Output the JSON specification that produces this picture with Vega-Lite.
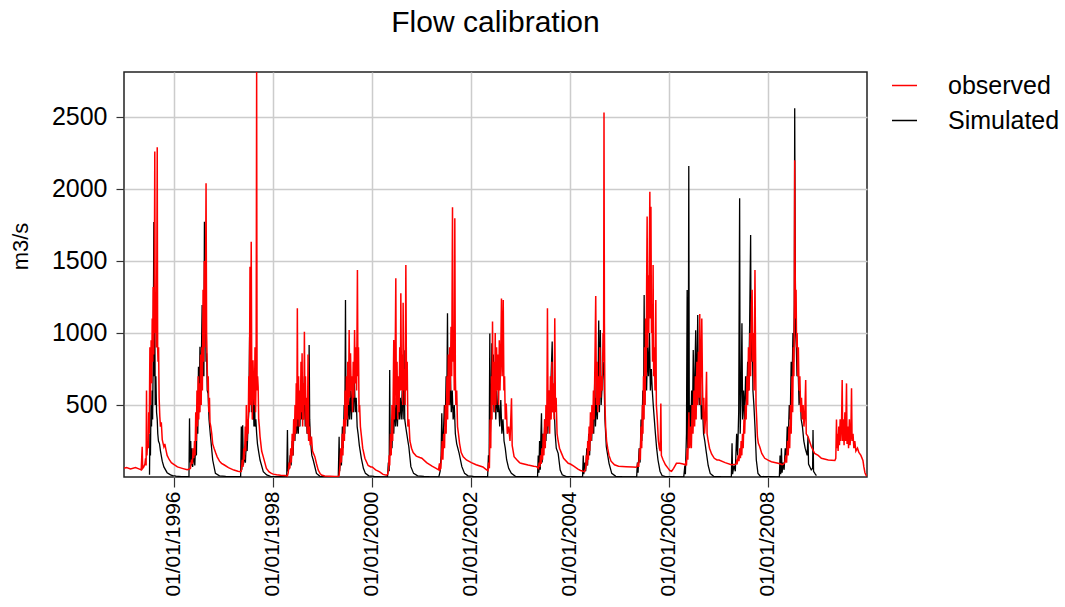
{
"$schema": "https://vega.github.io/schema/vega-lite/v6.json",
"width": 743, "height": 405,
"autosize": {"type": "none"},
"padding": {"left": 124, "top": 72, "right": 198, "bottom": 130},
"background": "white",
"title": {"text": "Flow calibration", "fontSize": 30, "font": "Liberation Sans", "fontWeight": "normal", "color": "black", "anchor": "middle", "offset": 34},
"config": {"view": {"stroke": "#222222", "strokeWidth": 1.5}, "font": "Liberation Sans"},
"encoding": {
  "x": {"field": "t", "type": "temporal",
    "scale": {"domain": [{"year": 1995, "month": 1, "date": 1}, {"year": 2009, "month": 12, "date": 31}], "nice": false},
    "axis": {"title": null, "values": [{"year": 1996, "month": 1, "date": 1}, {"year": 1998, "month": 1, "date": 1}, {"year": 2000, "month": 1, "date": 1}, {"year": 2002, "month": 1, "date": 1}, {"year": 2004, "month": 1, "date": 1}, {"year": 2006, "month": 1, "date": 1}, {"year": 2008, "month": 1, "date": 1}],
      "format": "%d/%m/%Y", "labelAngle": 270, "labelFontSize": 21, "labelFont": "Liberation Sans", "labelColor": "black", "labelOverlap": false, "labelFlush": false,
      "tickSize": 10, "tickColor": "#333333", "tickWidth": 1.2, "labelPadding": 4, "grid": true, "gridColor": "#cccccc", "gridWidth": 1.5, "domain": false}},
  "y": {"field": "v", "type": "quantitative",
    "scale": {"domain": [0, 2812], "nice": false},
    "axis": {"title": "m3/s", "values": [500, 1000, 1500, 2000, 2500], "format": "d", "labelFontSize": 25, "labelFont": "Liberation Sans", "labelColor": "black",
      "tickSize": 8, "tickColor": "#333333", "tickWidth": 1.2, "labelPadding": 9, "grid": true, "gridColor": "#cccccc", "gridWidth": 1.5, "domain": false,
      "titleFontSize": 22, "titleFont": "Liberation Sans", "titleFontWeight": "normal", "titleColor": "black", "titlePadding": 19, "titleY": 174}}
},
"layer": [
{
"data": {"format": {"parse": {"t": "date:'%Y-%j'"}}, "values": [
{"t":"1995-189","v":15},{"t":"1995-192","v":300},{"t":"1995-196","v":150},{"t":"1995-200","v":500},{"t":"1995-204","v":350},{"t":"1995-208","v":600},{"t":"1995-212","v":400},{"t":"1995-216","v":800},{"t":"1995-221","v":1770},{"t":"1995-224","v":700},{"t":"1995-228","v":1100},{"t":"1995-231","v":500},{"t":"1995-236","v":700},{"t":"1995-241","v":450},{"t":"1995-246","v":400},{"t":"1995-250","v":300},{"t":"1995-255","v":250},{"t":"1995-263","v":230},{"t":"1995-270","v":180},{"t":"1995-283","v":110},{"t":"1995-295","v":70},{"t":"1995-319","v":30},{"t":"1995-344","v":15},{"t":"1995-360","v":10},
{"t":"1996-20","v":6},{"t":"1996-60","v":3},{"t":"1996-115","v":2},{"t":"1996-119","v":407},{"t":"1996-123","v":100},{"t":"1996-128","v":250},{"t":"1996-132","v":80},{"t":"1996-137","v":200},{"t":"1996-142","v":70},{"t":"1996-150","v":160},{"t":"1996-158","v":80},{"t":"1996-165","v":250},{"t":"1996-170","v":150},{"t":"1996-175","v":500},{"t":"1996-180","v":300},{"t":"1996-185","v":766},{"t":"1996-190","v":450},{"t":"1996-196","v":905},{"t":"1996-201","v":500},{"t":"1996-206","v":800},{"t":"1996-212","v":1194},{"t":"1996-216","v":700},{"t":"1996-221","v":1000},{"t":"1996-225","v":700},{"t":"1996-229","v":1773},{"t":"1996-233","v":1000},{"t":"1996-237","v":1200},{"t":"1996-241","v":800},{"t":"1996-245","v":860},{"t":"1996-250","v":600},{"t":"1996-256","v":580},{"t":"1996-263","v":400},{"t":"1996-272","v":300},{"t":"1996-290","v":118},{"t":"1996-310","v":25},{"t":"1996-340","v":8},
{"t":"1997-20","v":5},{"t":"1997-80","v":3},{"t":"1997-130","v":2},{"t":"1997-135","v":350},{"t":"1997-139","v":50},{"t":"1997-145","v":360},{"t":"1997-150","v":80},{"t":"1997-158","v":150},{"t":"1997-165","v":100},{"t":"1997-172","v":250},{"t":"1997-178","v":180},{"t":"1997-184","v":350},{"t":"1997-190","v":450},{"t":"1997-196","v":975},{"t":"1997-200","v":500},{"t":"1997-205","v":810},{"t":"1997-210","v":450},{"t":"1997-215","v":600},{"t":"1997-220","v":400},{"t":"1997-224","v":580},{"t":"1997-228","v":350},{"t":"1997-232","v":670},{"t":"1997-236","v":350},{"t":"1997-242","v":400},{"t":"1997-248","v":300},{"t":"1997-254","v":230},{"t":"1997-262","v":180},{"t":"1997-273","v":118},{"t":"1997-297","v":37},{"t":"1997-322","v":14},{"t":"1997-350","v":5},
{"t":"1998-20","v":3},{"t":"1998-60","v":2},{"t":"1998-105","v":1},{"t":"1998-110","v":326},{"t":"1998-114","v":40},{"t":"1998-122","v":60},{"t":"1998-130","v":150},{"t":"1998-137","v":80},{"t":"1998-145","v":250},{"t":"1998-152","v":150},{"t":"1998-159","v":400},{"t":"1998-165","v":250},{"t":"1998-172","v":500},{"t":"1998-178","v":300},{"t":"1998-185","v":450},{"t":"1998-190","v":300},{"t":"1998-196","v":500},{"t":"1998-202","v":350},{"t":"1998-208","v":600},{"t":"1998-214","v":400},{"t":"1998-222","v":650},{"t":"1998-228","v":400},{"t":"1998-235","v":700},{"t":"1998-241","v":350},{"t":"1998-248","v":500},{"t":"1998-255","v":300},{"t":"1998-262","v":450},{"t":"1998-266","v":250},{"t":"1998-270","v":917},{"t":"1998-274","v":400},{"t":"1998-280","v":250},{"t":"1998-290","v":150},{"t":"1998-300","v":118},{"t":"1998-324","v":25},{"t":"1998-350","v":5},
{"t":"1999-20","v":3},{"t":"1999-60","v":2},{"t":"1999-120","v":1},{"t":"1999-126","v":280},{"t":"1999-130","v":40},{"t":"1999-137","v":150},{"t":"1999-143","v":80},{"t":"1999-150","v":350},{"t":"1999-156","v":200},{"t":"1999-163","v":500},{"t":"1999-168","v":300},{"t":"1999-173","v":1229},{"t":"1999-177","v":400},{"t":"1999-183","v":600},{"t":"1999-189","v":350},{"t":"1999-196","v":550},{"t":"1999-203","v":400},{"t":"1999-210","v":600},{"t":"1999-217","v":400},{"t":"1999-224","v":650},{"t":"1999-231","v":450},{"t":"1999-238","v":700},{"t":"1999-245","v":450},{"t":"1999-252","v":550},{"t":"1999-259","v":350},{"t":"1999-266","v":300},{"t":"1999-275","v":220},{"t":"1999-290","v":130},{"t":"1999-305","v":60},{"t":"1999-320","v":25},{"t":"1999-345","v":8},
{"t":"2000-20","v":4},{"t":"2000-60","v":2},{"t":"2000-118","v":1},{"t":"2000-124","v":100},{"t":"2000-130","v":40},{"t":"2000-134","v":743},{"t":"2000-138","v":150},{"t":"2000-145","v":300},{"t":"2000-151","v":200},{"t":"2000-158","v":450},{"t":"2000-164","v":300},{"t":"2000-171","v":550},{"t":"2000-177","v":350},{"t":"2000-184","v":500},{"t":"2000-191","v":350},{"t":"2000-198","v":600},{"t":"2000-205","v":400},{"t":"2000-212","v":550},{"t":"2000-219","v":400},{"t":"2000-226","v":600},{"t":"2000-233","v":400},{"t":"2000-240","v":880},{"t":"2000-245","v":400},{"t":"2000-252","v":350},{"t":"2000-260","v":300},{"t":"2000-268","v":250},{"t":"2000-275","v":210},{"t":"2000-290","v":72},{"t":"2000-310","v":25},{"t":"2000-340","v":8},
{"t":"2001-20","v":4},{"t":"2001-60","v":2},{"t":"2001-130","v":1},{"t":"2001-140","v":40},{"t":"2001-147","v":150},{"t":"2001-152","v":442},{"t":"2001-157","v":200},{"t":"2001-164","v":300},{"t":"2001-171","v":500},{"t":"2001-177","v":350},{"t":"2001-184","v":700},{"t":"2001-189","v":500},{"t":"2001-194","v":1137},{"t":"2001-198","v":600},{"t":"2001-204","v":800},{"t":"2001-210","v":500},{"t":"2001-216","v":700},{"t":"2001-222","v":450},{"t":"2001-229","v":600},{"t":"2001-236","v":400},{"t":"2001-244","v":500},{"t":"2001-252","v":300},{"t":"2001-262","v":230},{"t":"2001-280","v":164},{"t":"2001-300","v":72},{"t":"2001-320","v":25},{"t":"2001-345","v":8},
{"t":"2002-20","v":4},{"t":"2002-60","v":2},{"t":"2002-125","v":2},{"t":"2002-131","v":150},{"t":"2002-136","v":80},{"t":"2002-141","v":997},{"t":"2002-145","v":300},{"t":"2002-151","v":500},{"t":"2002-156","v":928},{"t":"2002-161","v":500},{"t":"2002-167","v":850},{"t":"2002-172","v":450},{"t":"2002-179","v":700},{"t":"2002-185","v":400},{"t":"2002-192","v":600},{"t":"2002-199","v":450},{"t":"2002-207","v":500},{"t":"2002-214","v":350},{"t":"2002-222","v":535},{"t":"2002-230","v":300},{"t":"2002-238","v":400},{"t":"2002-246","v":250},{"t":"2002-255","v":200},{"t":"2002-265","v":120},{"t":"2002-280","v":60},{"t":"2002-300","v":25},{"t":"2002-330","v":5},
{"t":"2003-20","v":3},{"t":"2003-60","v":2},{"t":"2003-128","v":1},{"t":"2003-133","v":150},{"t":"2003-138","v":30},{"t":"2003-143","v":250},{"t":"2003-148","v":50},{"t":"2003-153","v":300},{"t":"2003-157","v":442},{"t":"2003-162","v":100},{"t":"2003-168","v":300},{"t":"2003-175","v":200},{"t":"2003-182","v":400},{"t":"2003-190","v":250},{"t":"2003-197","v":500},{"t":"2003-204","v":300},{"t":"2003-212","v":600},{"t":"2003-220","v":400},{"t":"2003-228","v":700},{"t":"2003-236","v":940},{"t":"2003-242","v":450},{"t":"2003-250","v":500},{"t":"2003-258","v":300},{"t":"2003-266","v":200},{"t":"2003-280","v":164},{"t":"2003-295","v":48},{"t":"2003-310","v":15},{"t":"2003-340","v":3},
{"t":"2004-20","v":2},{"t":"2004-60","v":1},{"t":"2004-95","v":1},{"t":"2004-100","v":150},{"t":"2004-104","v":20},{"t":"2004-112","v":100},{"t":"2004-118","v":40},{"t":"2004-126","v":200},{"t":"2004-132","v":80},{"t":"2004-140","v":300},{"t":"2004-147","v":150},{"t":"2004-155","v":400},{"t":"2004-162","v":250},{"t":"2004-170","v":500},{"t":"2004-177","v":300},{"t":"2004-185","v":697},{"t":"2004-190","v":350},{"t":"2004-197","v":550},{"t":"2004-204","v":400},{"t":"2004-210","v":700},{"t":"2004-214","v":1086},{"t":"2004-219","v":450},{"t":"2004-226","v":1021},{"t":"2004-232","v":500},{"t":"2004-240","v":650},{"t":"2004-247","v":800},{"t":"2004-253","v":700},{"t":"2004-260","v":400},{"t":"2004-270","v":210},{"t":"2004-290","v":95},{"t":"2004-310","v":25},{"t":"2004-340","v":5},
{"t":"2005-20","v":2},{"t":"2005-60","v":1},{"t":"2005-128","v":1},{"t":"2005-133","v":100},{"t":"2005-138","v":30},{"t":"2005-146","v":200},{"t":"2005-153","v":100},{"t":"2005-160","v":400},{"t":"2005-166","v":250},{"t":"2005-173","v":600},{"t":"2005-178","v":400},{"t":"2005-183","v":1264},{"t":"2005-187","v":500},{"t":"2005-194","v":800},{"t":"2005-201","v":600},{"t":"2005-208","v":900},{"t":"2005-215","v":700},{"t":"2005-222","v":1000},{"t":"2005-229","v":600},{"t":"2005-236","v":750},{"t":"2005-243","v":600},{"t":"2005-250","v":500},{"t":"2005-258","v":400},{"t":"2005-266","v":300},{"t":"2005-275","v":200},{"t":"2005-285","v":118},{"t":"2005-300","v":40},{"t":"2005-315","v":10},{"t":"2005-340","v":3},
{"t":"2006-20","v":2},{"t":"2006-60","v":1},{"t":"2006-110","v":1},{"t":"2006-118","v":80},{"t":"2006-122","v":20},{"t":"2006-130","v":300},{"t":"2006-135","v":1299},{"t":"2006-139","v":200},{"t":"2006-143","v":400},{"t":"2006-147","v":2160},{"t":"2006-151","v":300},{"t":"2006-156","v":500},{"t":"2006-162","v":300},{"t":"2006-168","v":600},{"t":"2006-174","v":350},{"t":"2006-180","v":882},{"t":"2006-186","v":450},{"t":"2006-192","v":700},{"t":"2006-198","v":1019},{"t":"2006-204","v":500},{"t":"2006-209","v":800},{"t":"2006-213","v":1125},{"t":"2006-218","v":600},{"t":"2006-225","v":500},{"t":"2006-232","v":700},{"t":"2006-240","v":400},{"t":"2006-248","v":500},{"t":"2006-256","v":300},{"t":"2006-265","v":250},{"t":"2006-275","v":180},{"t":"2006-290","v":80},{"t":"2006-305","v":25},{"t":"2006-330","v":5},
{"t":"2007-20","v":2},{"t":"2007-60","v":1},{"t":"2007-96","v":1},{"t":"2007-101","v":234},{"t":"2007-105","v":20},{"t":"2007-115","v":80},{"t":"2007-125","v":40},{"t":"2007-135","v":300},{"t":"2007-142","v":150},{"t":"2007-150","v":450},{"t":"2007-157","v":1935},{"t":"2007-161","v":300},{"t":"2007-168","v":600},{"t":"2007-174","v":1067},{"t":"2007-179","v":400},{"t":"2007-186","v":600},{"t":"2007-193","v":400},{"t":"2007-201","v":700},{"t":"2007-208","v":500},{"t":"2007-216","v":800},{"t":"2007-223","v":600},{"t":"2007-230","v":1000},{"t":"2007-238","v":1681},{"t":"2007-242","v":800},{"t":"2007-249","v":1200},{"t":"2007-255","v":600},{"t":"2007-262","v":500},{"t":"2007-270","v":350},{"t":"2007-280","v":118},{"t":"2007-292","v":25},{"t":"2007-310","v":5},{"t":"2007-340","v":2},
{"t":"2008-20","v":2},{"t":"2008-60","v":1},{"t":"2008-85","v":1},{"t":"2008-90","v":150},{"t":"2008-95","v":20},{"t":"2008-100","v":200},{"t":"2008-105","v":30},{"t":"2008-112","v":100},{"t":"2008-120","v":50},{"t":"2008-128","v":200},{"t":"2008-135","v":120},{"t":"2008-143","v":350},{"t":"2008-150","v":250},{"t":"2008-158","v":500},{"t":"2008-165","v":400},{"t":"2008-172","v":800},{"t":"2008-178","v":600},{"t":"2008-185","v":1000},{"t":"2008-190","v":800},{"t":"2008-195","v":1200},{"t":"2008-198","v":2560},{"t":"2008-201","v":1715},{"t":"2008-205","v":1000},{"t":"2008-210","v":900},{"t":"2008-215","v":700},{"t":"2008-222","v":800},{"t":"2008-230","v":500},{"t":"2008-238","v":600},{"t":"2008-246","v":400},{"t":"2008-255","v":350},{"t":"2008-265","v":250},{"t":"2008-275","v":200},{"t":"2008-290","v":150},{"t":"2008-296","v":280},{"t":"2008-300","v":90},{"t":"2008-310","v":70},{"t":"2008-320","v":50},{"t":"2008-330","v":60},{"t":"2008-333","v":326},{"t":"2008-337","v":40},{"t":"2008-350","v":20},{"t":"2008-358","v":10}
]},
"mark": {"type": "line", "strokeWidth": 1.3, "clip": true},
"encoding": {"color": {"datum": "Simulated", "type": "nominal",
  "scale": {"domain": ["observed", "Simulated"], "range": ["#ff0000", "#000000"]},
  "legend": {"title": null, "orient": "none", "legendX": 767, "legendY": 0, "symbolType": "stroke", "symbolSize": 625, "symbolStrokeWidth": 1.5, "labelFontSize": 25, "labelFont": "Liberation Sans", "labelColor": "black", "labelOffset": 30, "rowPadding": 8, "padding": 0}}}
},
{
"data": {"format": {"parse": {"t": "date:'%Y-%j'"}}, "values": [
{"t":"1995-1","v":60},{"t":"1995-20","v":65},{"t":"1995-49","v":55},{"t":"1995-86","v":65},{"t":"1995-115","v":55},{"t":"1995-128","v":50},{"t":"1995-135","v":210},{"t":"1995-139","v":60},{"t":"1995-147","v":70},{"t":"1995-155","v":90},{"t":"1995-160","v":130},{"t":"1995-164","v":80},{"t":"1995-167","v":600},{"t":"1995-170","v":150},{"t":"1995-175","v":250},{"t":"1995-180","v":200},{"t":"1995-183","v":450},{"t":"1995-187","v":300},{"t":"1995-192","v":900},{"t":"1995-196","v":500},{"t":"1995-201","v":950},{"t":"1995-205","v":650},{"t":"1995-209","v":1100},{"t":"1995-213","v":800},{"t":"1995-216","v":1320},{"t":"1995-220","v":850},{"t":"1995-224","v":1200},{"t":"1995-228","v":2260},{"t":"1995-231","v":1000},{"t":"1995-235","v":1250},{"t":"1995-239","v":900},{"t":"1995-243","v":1500},{"t":"1995-246","v":2290},{"t":"1995-249","v":900},{"t":"1995-252","v":800},{"t":"1995-256","v":900},{"t":"1995-260","v":550},{"t":"1995-265","v":420},{"t":"1995-270","v":350},{"t":"1995-276","v":380},{"t":"1995-283","v":260},{"t":"1995-290","v":230},{"t":"1995-295","v":210},{"t":"1995-302","v":230},{"t":"1995-310","v":190},{"t":"1995-319","v":150},{"t":"1995-335","v":120},{"t":"1995-350","v":100},{"t":"1995-365","v":90},
{"t":"1996-30","v":70},{"t":"1996-65","v":60},{"t":"1996-102","v":50},{"t":"1996-119","v":55},{"t":"1996-126","v":60},{"t":"1996-134","v":120},{"t":"1996-140","v":90},{"t":"1996-146","v":200},{"t":"1996-151","v":130},{"t":"1996-156","v":250},{"t":"1996-160","v":150},{"t":"1996-165","v":450},{"t":"1996-169","v":250},{"t":"1996-174","v":600},{"t":"1996-178","v":350},{"t":"1996-183","v":700},{"t":"1996-187","v":400},{"t":"1996-192","v":650},{"t":"1996-196","v":450},{"t":"1996-201","v":850},{"t":"1996-205","v":500},{"t":"1996-210","v":900},{"t":"1996-214","v":600},{"t":"1996-219","v":1300},{"t":"1996-223","v":800},{"t":"1996-228","v":1500},{"t":"1996-232","v":900},{"t":"1996-236","v":1200},{"t":"1996-241","v":2040},{"t":"1996-245","v":1000},{"t":"1996-249","v":800},{"t":"1996-253","v":600},{"t":"1996-257","v":700},{"t":"1996-261","v":450},{"t":"1996-266","v":550},{"t":"1996-270","v":380},{"t":"1996-276","v":350},{"t":"1996-283","v":300},{"t":"1996-290","v":230},{"t":"1996-300","v":200},{"t":"1996-311","v":170},{"t":"1996-323","v":140},{"t":"1996-340","v":110},{"t":"1996-355","v":95},
{"t":"1997-7","v":85},{"t":"1997-40","v":65},{"t":"1997-80","v":48},{"t":"1997-110","v":40},{"t":"1997-129","v":37},{"t":"1997-135","v":40},{"t":"1997-142","v":120},{"t":"1997-147","v":70},{"t":"1997-153","v":200},{"t":"1997-158","v":120},{"t":"1997-164","v":350},{"t":"1997-168","v":180},{"t":"1997-172","v":500},{"t":"1997-176","v":250},{"t":"1997-181","v":400},{"t":"1997-185","v":300},{"t":"1997-190","v":700},{"t":"1997-194","v":450},{"t":"1997-199","v":1460},{"t":"1997-203","v":500},{"t":"1997-208","v":1634},{"t":"1997-212","v":700},{"t":"1997-216","v":400},{"t":"1997-221","v":810},{"t":"1997-226","v":600},{"t":"1997-231","v":500},{"t":"1997-236","v":900},{"t":"1997-240","v":450},{"t":"1997-244","v":700},{"t":"1997-248","v":2830},{"t":"1997-251","v":600},{"t":"1997-255","v":700},{"t":"1997-259","v":627},{"t":"1997-263","v":400},{"t":"1997-268","v":350},{"t":"1997-273","v":280},{"t":"1997-285","v":180},{"t":"1997-297","v":140},{"t":"1997-320","v":60},{"t":"1997-340","v":35},{"t":"1997-357","v":25},
{"t":"1998-5","v":20},{"t":"1998-30","v":15},{"t":"1998-60","v":12},{"t":"1998-91","v":10},{"t":"1998-110","v":8},{"t":"1998-116","v":30},{"t":"1998-122","v":100},{"t":"1998-128","v":60},{"t":"1998-134","v":200},{"t":"1998-139","v":100},{"t":"1998-145","v":300},{"t":"1998-150","v":150},{"t":"1998-156","v":400},{"t":"1998-161","v":250},{"t":"1998-166","v":500},{"t":"1998-170","v":300},{"t":"1998-175","v":650},{"t":"1998-179","v":350},{"t":"1998-183","v":1171},{"t":"1998-187","v":400},{"t":"1998-192","v":700},{"t":"1998-196","v":350},{"t":"1998-201","v":600},{"t":"1998-205","v":400},{"t":"1998-210","v":800},{"t":"1998-214","v":450},{"t":"1998-218","v":859},{"t":"1998-222","v":350},{"t":"1998-227","v":650},{"t":"1998-231","v":400},{"t":"1998-235","v":1009},{"t":"1998-239","v":500},{"t":"1998-243","v":700},{"t":"1998-247","v":350},{"t":"1998-252","v":550},{"t":"1998-257","v":300},{"t":"1998-262","v":850},{"t":"1998-267","v":250},{"t":"1998-272","v":350},{"t":"1998-278","v":220},{"t":"1998-287","v":280},{"t":"1998-295","v":180},{"t":"1998-312","v":141},{"t":"1998-325","v":90},{"t":"1998-337","v":48},{"t":"1998-350","v":25},{"t":"1998-361","v":14},
{"t":"1999-20","v":7},{"t":"1999-60","v":5},{"t":"1999-94","v":3},{"t":"1999-120","v":5},{"t":"1999-126","v":10},{"t":"1999-132","v":80},{"t":"1999-138","v":200},{"t":"1999-143","v":100},{"t":"1999-149","v":300},{"t":"1999-154","v":150},{"t":"1999-160","v":400},{"t":"1999-165","v":250},{"t":"1999-170","v":600},{"t":"1999-175","v":350},{"t":"1999-180","v":700},{"t":"1999-185","v":400},{"t":"1999-190","v":800},{"t":"1999-195","v":500},{"t":"1999-200","v":1020},{"t":"1999-205","v":550},{"t":"1999-210","v":859},{"t":"1999-215","v":600},{"t":"1999-220","v":700},{"t":"1999-225","v":450},{"t":"1999-230","v":800},{"t":"1999-235","v":550},{"t":"1999-240","v":1020},{"t":"1999-245","v":650},{"t":"1999-250","v":900},{"t":"1999-255","v":600},{"t":"1999-261","v":1437},{"t":"1999-265","v":700},{"t":"1999-269","v":900},{"t":"1999-273","v":450},{"t":"1999-277","v":500},{"t":"1999-283","v":350},{"t":"1999-291","v":280},{"t":"1999-300","v":200},{"t":"1999-316","v":130},{"t":"1999-340","v":80},{"t":"1999-360","v":70},
{"t":"2000-5","v":70},{"t":"2000-30","v":50},{"t":"2000-60","v":35},{"t":"2000-85","v":18},{"t":"2000-110","v":12},{"t":"2000-120","v":20},{"t":"2000-126","v":60},{"t":"2000-130","v":150},{"t":"2000-134","v":80},{"t":"2000-140","v":300},{"t":"2000-145","v":150},{"t":"2000-151","v":500},{"t":"2000-156","v":250},{"t":"2000-164","v":951},{"t":"2000-168","v":400},{"t":"2000-173","v":650},{"t":"2000-179","v":1380},{"t":"2000-183","v":500},{"t":"2000-188","v":800},{"t":"2000-193","v":400},{"t":"2000-198","v":700},{"t":"2000-203","v":450},{"t":"2000-208","v":900},{"t":"2000-213","v":600},{"t":"2000-216","v":1275},{"t":"2000-221","v":600},{"t":"2000-226","v":850},{"t":"2000-230","v":500},{"t":"2000-233","v":1209},{"t":"2000-238","v":600},{"t":"2000-243","v":750},{"t":"2000-248","v":500},{"t":"2000-253","v":1472},{"t":"2000-258","v":600},{"t":"2000-263","v":800},{"t":"2000-268","v":350},{"t":"2000-275","v":400},{"t":"2000-283","v":250},{"t":"2000-295","v":200},{"t":"2000-307","v":170},{"t":"2000-330","v":145},{"t":"2000-356","v":135},
{"t":"2001-5","v":130},{"t":"2001-40","v":100},{"t":"2001-80","v":75},{"t":"2001-110","v":60},{"t":"2001-128","v":50},{"t":"2001-135","v":95},{"t":"2001-138","v":50},{"t":"2001-145","v":60},{"t":"2001-150","v":150},{"t":"2001-155","v":250},{"t":"2001-160","v":120},{"t":"2001-166","v":300},{"t":"2001-172","v":200},{"t":"2001-178","v":500},{"t":"2001-184","v":300},{"t":"2001-190","v":700},{"t":"2001-195","v":400},{"t":"2001-200","v":850},{"t":"2001-205","v":500},{"t":"2001-210","v":900},{"t":"2001-215","v":600},{"t":"2001-220","v":1044},{"t":"2001-225","v":700},{"t":"2001-231","v":1873},{"t":"2001-235","v":800},{"t":"2001-240","v":1000},{"t":"2001-244","v":600},{"t":"2001-248","v":1796},{"t":"2001-252","v":700},{"t":"2001-256","v":500},{"t":"2001-262","v":600},{"t":"2001-268","v":350},{"t":"2001-275","v":300},{"t":"2001-283","v":234},{"t":"2001-295","v":170},{"t":"2001-310","v":140},{"t":"2001-334","v":118},
{"t":"2002-5","v":100},{"t":"2002-40","v":85},{"t":"2002-90","v":70},{"t":"2002-117","v":50},{"t":"2002-128","v":45},{"t":"2002-132","v":100},{"t":"2002-138","v":60},{"t":"2002-143","v":400},{"t":"2002-148","v":200},{"t":"2002-153","v":700},{"t":"2002-157","v":400},{"t":"2002-161","v":1079},{"t":"2002-166","v":500},{"t":"2002-171","v":800},{"t":"2002-176","v":450},{"t":"2002-181","v":1000},{"t":"2002-186","v":500},{"t":"2002-191","v":900},{"t":"2002-196","v":600},{"t":"2002-201","v":850},{"t":"2002-206","v":500},{"t":"2002-211","v":950},{"t":"2002-216","v":600},{"t":"2002-221","v":800},{"t":"2002-227","v":1240},{"t":"2002-232","v":700},{"t":"2002-236","v":900},{"t":"2002-240","v":1229},{"t":"2002-245","v":600},{"t":"2002-250","v":700},{"t":"2002-255","v":400},{"t":"2002-262","v":511},{"t":"2002-270","v":300},{"t":"2002-280","v":350},{"t":"2002-290","v":250},{"t":"2002-301","v":546},{"t":"2002-306","v":220},{"t":"2002-320","v":141},{"t":"2002-340","v":120},{"t":"2002-360","v":100},
{"t":"2003-5","v":95},{"t":"2003-58","v":83},{"t":"2003-100","v":75},{"t":"2003-120","v":72},{"t":"2003-130","v":65},{"t":"2003-135","v":60},{"t":"2003-140","v":100},{"t":"2003-145","v":70},{"t":"2003-150","v":150},{"t":"2003-155","v":90},{"t":"2003-160","v":200},{"t":"2003-165","v":120},{"t":"2003-170","v":300},{"t":"2003-175","v":150},{"t":"2003-180","v":400},{"t":"2003-185","v":200},{"t":"2003-190","v":500},{"t":"2003-196","v":300},{"t":"2003-201","v":1171},{"t":"2003-206","v":350},{"t":"2003-212","v":600},{"t":"2003-217","v":300},{"t":"2003-223","v":700},{"t":"2003-228","v":400},{"t":"2003-234","v":800},{"t":"2003-240","v":450},{"t":"2003-246","v":650},{"t":"2003-250","v":400},{"t":"2003-255","v":1102},{"t":"2003-260","v":450},{"t":"2003-265","v":550},{"t":"2003-272","v":300},{"t":"2003-280","v":250},{"t":"2003-290","v":200},{"t":"2003-305","v":164},{"t":"2003-320","v":130},{"t":"2003-354","v":95},
{"t":"2004-5","v":90},{"t":"2004-30","v":75},{"t":"2004-61","v":55},{"t":"2004-80","v":45},{"t":"2004-100","v":40},{"t":"2004-110","v":38},{"t":"2004-118","v":60},{"t":"2004-123","v":150},{"t":"2004-128","v":80},{"t":"2004-133","v":250},{"t":"2004-138","v":120},{"t":"2004-143","v":350},{"t":"2004-148","v":180},{"t":"2004-153","v":450},{"t":"2004-158","v":250},{"t":"2004-164","v":500},{"t":"2004-169","v":300},{"t":"2004-175","v":600},{"t":"2004-180","v":400},{"t":"2004-186","v":800},{"t":"2004-192","v":1257},{"t":"2004-197","v":500},{"t":"2004-202","v":800},{"t":"2004-207","v":450},{"t":"2004-212","v":700},{"t":"2004-217","v":500},{"t":"2004-222","v":900},{"t":"2004-228","v":550},{"t":"2004-234","v":700},{"t":"2004-240","v":600},{"t":"2004-246","v":1000},{"t":"2004-250","v":800},{"t":"2004-253","v":2530},{"t":"2004-256","v":1067},{"t":"2004-260","v":500},{"t":"2004-265","v":350},{"t":"2004-272","v":250},{"t":"2004-280","v":200},{"t":"2004-290","v":150},{"t":"2004-305","v":110},{"t":"2004-330","v":85},{"t":"2004-360","v":75},
{"t":"2005-50","v":72},{"t":"2005-100","v":70},{"t":"2005-125","v":68},{"t":"2005-132","v":75},{"t":"2005-138","v":100},{"t":"2005-143","v":70},{"t":"2005-150","v":200},{"t":"2005-155","v":120},{"t":"2005-160","v":350},{"t":"2005-165","v":200},{"t":"2005-170","v":500},{"t":"2005-174","v":300},{"t":"2005-178","v":700},{"t":"2005-182","v":400},{"t":"2005-186","v":900},{"t":"2005-190","v":500},{"t":"2005-194","v":1100},{"t":"2005-198","v":700},{"t":"2005-201","v":1300},{"t":"2005-205","v":1808},{"t":"2005-209","v":900},{"t":"2005-213","v":1400},{"t":"2005-217","v":1000},{"t":"2005-221","v":1500},{"t":"2005-225","v":1981},{"t":"2005-229","v":1100},{"t":"2005-233","v":1877},{"t":"2005-237","v":1000},{"t":"2005-241","v":1200},{"t":"2005-245","v":800},{"t":"2005-249","v":1472},{"t":"2005-253","v":700},{"t":"2005-258","v":900},{"t":"2005-263","v":600},{"t":"2005-269","v":1229},{"t":"2005-273","v":500},{"t":"2005-280","v":400},{"t":"2005-288","v":250},{"t":"2005-295","v":200},{"t":"2005-301","v":180},{"t":"2005-306","v":511},{"t":"2005-310","v":150},{"t":"2005-323","v":118},{"t":"2005-340","v":85},{"t":"2005-360","v":60},
{"t":"2006-7","v":45},{"t":"2006-20","v":40},{"t":"2006-35","v":60},{"t":"2006-56","v":95},{"t":"2006-80","v":95},{"t":"2006-105","v":90},{"t":"2006-120","v":85},{"t":"2006-125","v":100},{"t":"2006-130","v":80},{"t":"2006-135","v":200},{"t":"2006-140","v":120},{"t":"2006-148","v":450},{"t":"2006-153","v":200},{"t":"2006-160","v":350},{"t":"2006-166","v":200},{"t":"2006-172","v":500},{"t":"2006-178","v":300},{"t":"2006-185","v":600},{"t":"2006-190","v":350},{"t":"2006-196","v":700},{"t":"2006-201","v":400},{"t":"2006-207","v":800},{"t":"2006-212","v":500},{"t":"2006-218","v":870},{"t":"2006-223","v":550},{"t":"2006-228","v":1132},{"t":"2006-233","v":500},{"t":"2006-238","v":800},{"t":"2006-243","v":1100},{"t":"2006-248","v":650},{"t":"2006-253","v":400},{"t":"2006-258","v":550},{"t":"2006-263","v":300},{"t":"2006-270","v":400},{"t":"2006-278","v":731},{"t":"2006-282","v":300},{"t":"2006-290","v":250},{"t":"2006-300","v":200},{"t":"2006-315","v":160},{"t":"2006-335","v":130},{"t":"2006-355","v":118},
{"t":"2007-5","v":118},{"t":"2007-50","v":100},{"t":"2007-96","v":85},{"t":"2007-130","v":88},{"t":"2007-135","v":110},{"t":"2007-140","v":100},{"t":"2007-147","v":150},{"t":"2007-152","v":110},{"t":"2007-158","v":200},{"t":"2007-163","v":130},{"t":"2007-168","v":250},{"t":"2007-173","v":150},{"t":"2007-178","v":300},{"t":"2007-183","v":200},{"t":"2007-189","v":400},{"t":"2007-194","v":300},{"t":"2007-200","v":500},{"t":"2007-205","v":400},{"t":"2007-211","v":700},{"t":"2007-216","v":500},{"t":"2007-222","v":900},{"t":"2007-227","v":600},{"t":"2007-233","v":1000},{"t":"2007-238","v":700},{"t":"2007-244","v":1200},{"t":"2007-249","v":1300},{"t":"2007-254","v":800},{"t":"2007-259","v":1000},{"t":"2007-264","v":600},{"t":"2007-270","v":1437},{"t":"2007-274","v":900},{"t":"2007-278","v":500},{"t":"2007-283","v":400},{"t":"2007-288","v":280},{"t":"2007-295","v":234},{"t":"2007-305","v":210},{"t":"2007-320","v":164},{"t":"2007-342","v":130},
{"t":"2008-5","v":115},{"t":"2008-26","v":106},{"t":"2008-75","v":95},{"t":"2008-95","v":90},{"t":"2008-105","v":85},{"t":"2008-115","v":90},{"t":"2008-125","v":100},{"t":"2008-133","v":150},{"t":"2008-138","v":100},{"t":"2008-145","v":250},{"t":"2008-150","v":150},{"t":"2008-156","v":350},{"t":"2008-161","v":200},{"t":"2008-167","v":500},{"t":"2008-172","v":300},{"t":"2008-178","v":700},{"t":"2008-183","v":450},{"t":"2008-188","v":900},{"t":"2008-192","v":700},{"t":"2008-195","v":1100},{"t":"2008-198","v":2200},{"t":"2008-201","v":1500},{"t":"2008-204","v":1100},{"t":"2008-208","v":1300},{"t":"2008-212","v":900},{"t":"2008-216","v":1000},{"t":"2008-220","v":700},{"t":"2008-225","v":900},{"t":"2008-230","v":600},{"t":"2008-236","v":700},{"t":"2008-242","v":450},{"t":"2008-248","v":550},{"t":"2008-254","v":400},{"t":"2008-260","v":500},{"t":"2008-266","v":350},{"t":"2008-272","v":420},{"t":"2008-279","v":674},{"t":"2008-283","v":300},{"t":"2008-296","v":280},{"t":"2008-321","v":210},{"t":"2008-345","v":164},
{"t":"2009-5","v":150},{"t":"2009-29","v":130},{"t":"2009-79","v":118},{"t":"2009-128","v":115},{"t":"2009-135","v":130},{"t":"2009-140","v":400},{"t":"2009-144","v":200},{"t":"2009-148","v":300},{"t":"2009-152","v":180},{"t":"2009-157","v":350},{"t":"2009-162","v":220},{"t":"2009-167","v":400},{"t":"2009-172","v":250},{"t":"2009-177","v":350},{"t":"2009-182","v":674},{"t":"2009-186","v":250},{"t":"2009-191","v":400},{"t":"2009-196","v":220},{"t":"2009-202","v":450},{"t":"2009-207","v":250},{"t":"2009-214","v":650},{"t":"2009-218","v":230},{"t":"2009-224","v":350},{"t":"2009-229","v":200},{"t":"2009-235","v":400},{"t":"2009-240","v":220},{"t":"2009-246","v":300},{"t":"2009-251","v":616},{"t":"2009-255","v":250},{"t":"2009-262","v":300},{"t":"2009-268","v":200},{"t":"2009-275","v":250},{"t":"2009-283","v":180},{"t":"2009-295","v":200},{"t":"2009-305","v":170},{"t":"2009-320","v":150},{"t":"2009-335","v":115},{"t":"2009-342","v":70},{"t":"2009-350","v":30},{"t":"2009-358","v":12},{"t":"2009-364","v":8}
]},
"mark": {"type": "line", "strokeWidth": 1.5, "clip": true},
"encoding": {"color": {"datum": "observed", "type": "nominal"}}
}
]
}
